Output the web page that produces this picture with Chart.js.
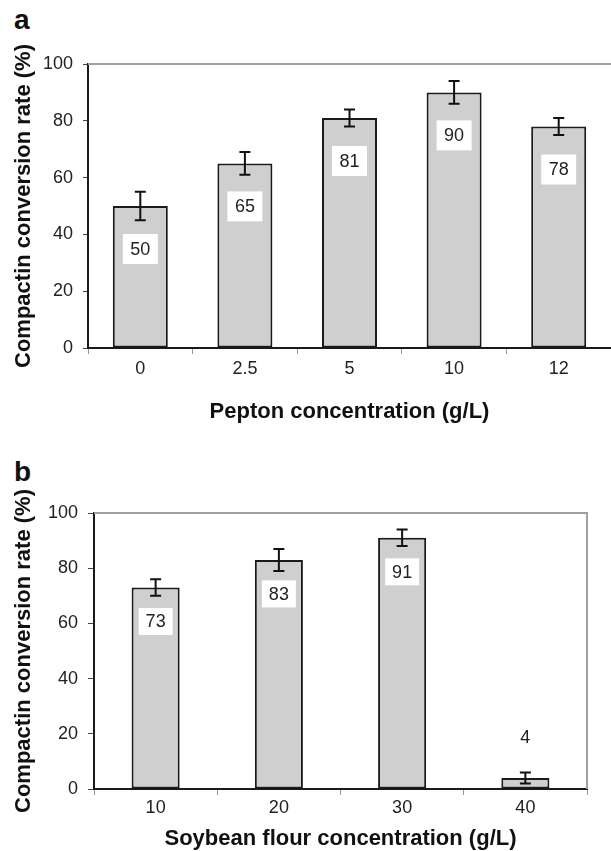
<!DOCTYPE html>
<html>
<head>
<meta charset="utf-8">
<script src="https://cdn.jsdelivr.net/npm/chart.js@4.4.1/dist/chart.umd.min.js"></script>
<style>
  html, body { margin:0; padding:0; background:#fff; overflow:hidden; }
  body { width:611px; height:851px; position:relative; font-family: Arial, "Liberation Sans", sans-serif; }
  .panel { position:absolute; left:0; width:611px; }
  .tag { position:absolute; left:14px; font-size:28px; font-weight:bold; line-height:1; color:#111; }
</style>
</head>
<body>
<div class="tag" style="top:6px">a</div>
<div class="tag" style="top:458px">b</div>
<div class="panel" style="top:0;height:424px"><canvas id="chartPepton"></canvas></div>
<div class="panel" style="top:420px;height:431px"><canvas id="chartSoy"></canvas></div>

<script>
// Panel a : pepton
const peptonLabels = ["0", "2.5", "5", "10", "12"];
const peptonRates  = [50, 65, 81, 90, 78];
const peptonErr    = [5, 4, 3, 4, 3];

// Panel b : soybean flour
const soyLabels = ["10", "20", "30", "40"];
const soyRates  = [73, 83, 91, 4];
const soyErr    = [3, 4, 3, 2];

const yMin = 0, yMax = 100, yStep = 20;

const FONT = "Arial, 'Liberation Sans', sans-serif";
const INK = "#1a1a1a";

// error bars (value +/- err)
const errorBars = {
  id: "errorBars",
  afterDatasetsDraw(chart) {
    const ctx = chart.ctx;
    const y = chart.scales.y;
    chart.data.datasets.forEach((ds, di) => {
      const meta = chart.getDatasetMeta(di);
      meta.data.forEach((bar, i) => {
        const v = ds.data[i], e = ds.errors[i];
        const yt = y.getPixelForValue(v + e);
        const yb = y.getPixelForValue(v - e);
        ctx.save();
        ctx.strokeStyle = "#111";
        ctx.lineWidth = 2;
        ctx.beginPath();
        ctx.moveTo(bar.x, yt); ctx.lineTo(bar.x, yb);
        ctx.moveTo(bar.x - 5.5, yt); ctx.lineTo(bar.x + 5.5, yt);
        ctx.moveTo(bar.x - 5.5, yb); ctx.lineTo(bar.x + 5.5, yb);
        ctx.stroke();
        ctx.restore();
      });
    });
  }
};

// value in a white box, inside the bar (above it when the bar is short)
const valueBoxes = {
  id: "valueBoxes",
  afterDatasetsDraw(chart, args, opts) {
    const ctx = chart.ctx;
    chart.data.datasets.forEach((ds, di) => {
      const meta = chart.getDatasetMeta(di);
      meta.data.forEach((bar, i) => {
        const v = ds.data[i];
        const cy = v > 20 ? bar.y + opts.offset : bar.y - 41;
        ctx.save();
        ctx.fillStyle = "#fff";
        ctx.fillRect(bar.x - opts.w / 2, cy - opts.h / 2, opts.w, opts.h);
        ctx.fillStyle = "#222";
        ctx.font = "18px " + FONT;
        ctx.textAlign = "center";
        ctx.textBaseline = "middle";
        ctx.fillText(String(v), bar.x, cy + 1);
        ctx.restore();
      });
    });
  }
};

// gray top / right frame
const frame = {
  id: "frame",
  beforeDatasetsDraw(chart, args, opts) {
    const { ctx, chartArea: a } = chart;
    ctx.save();
    ctx.strokeStyle = "#a0a0a0";
    ctx.lineWidth = 2;
    ctx.beginPath();
    ctx.moveTo(a.left, a.top); ctx.lineTo(a.right, a.top);
    if (opts.right) ctx.lineTo(a.right, a.bottom);
    ctx.stroke();
    ctx.restore();
  }
};

function makeChart(canvasId, labels, values, errs, cfg) {
  return new Chart(document.getElementById(canvasId), {
    type: "bar",
    data: {
      labels: labels,
      datasets: [{
        data: values,
        errors: errs,
        backgroundColor: "#cfcfcf",
        borderColor: INK,
        borderWidth: 2,
        borderSkipped: false,
        barPercentage: cfg.barPct,
        categoryPercentage: 1
      }]
    },
    options: {
      responsive: true,
      maintainAspectRatio: false,
      animation: false,
      layout: { padding: cfg.padding },
      plugins: {
        legend: { display: false },
        tooltip: { enabled: false },
        valueBoxes: cfg.box,
        frame: { right: cfg.rightFrame }
      },
      scales: {
        x: {
          afterFit: s => { s.height = cfg.xHeight; },
          grid: { drawOnChartArea: false, tickLength: 6, color: "#999", lineWidth: 1 },
          border: { color: INK, width: 2 },
          ticks: { color: "#222", font: { family: FONT, size: 18 }, padding: cfg.xPad },
          title: {
            display: true, text: cfg.xTitle, color: "#111",
            font: { family: FONT, size: 22, weight: "bold", lineHeight: 1.1 },
            padding: 0
          }
        },
        y: {
          min: yMin, max: yMax,
          afterFit: s => { s.width = cfg.yWidth; },
          grid: { drawOnChartArea: false, tickLength: cfg.yTick, color: "#444", lineWidth: 1 },
          border: { color: INK, width: 2 },
          ticks: { stepSize: yStep, color: "#222", font: { family: FONT, size: 18 }, padding: 10 },
          title: {
            display: true, text: "Compactin conversion rate (%)", color: "#111",
            font: { family: FONT, size: 22, weight: "bold", lineHeight: 1.1 },
            padding: { top: 12, bottom: 0 }
          }
        }
      }
    },
    plugins: [frame, errorBars, valueBoxes]
  });
}

makeChart("chartPepton", peptonLabels, peptonRates, peptonErr, {
  barPct: 0.526,
  padding: { top: 64, right: 0, left: 0, bottom: 0 },
  xHeight: 76, xPad: 4, yWidth: 88, yTick: 5,
  xTitle: "Pepton concentration (g/L)",
  box: { offset: 43, w: 35, h: 30 },
  rightFrame: false
});

makeChart("chartSoy", soyLabels, soyRates, soyErr, {
  barPct: 0.39,
  padding: { top: 93, right: 24, left: 0, bottom: 0 },
  xHeight: 62, xPad: 2, yWidth: 94, yTick: 6,
  xTitle: "Soybean flour concentration (g/L)",
  box: { offset: 34, w: 34, h: 27 },
  rightFrame: true
});
</script>
</body>
</html>
